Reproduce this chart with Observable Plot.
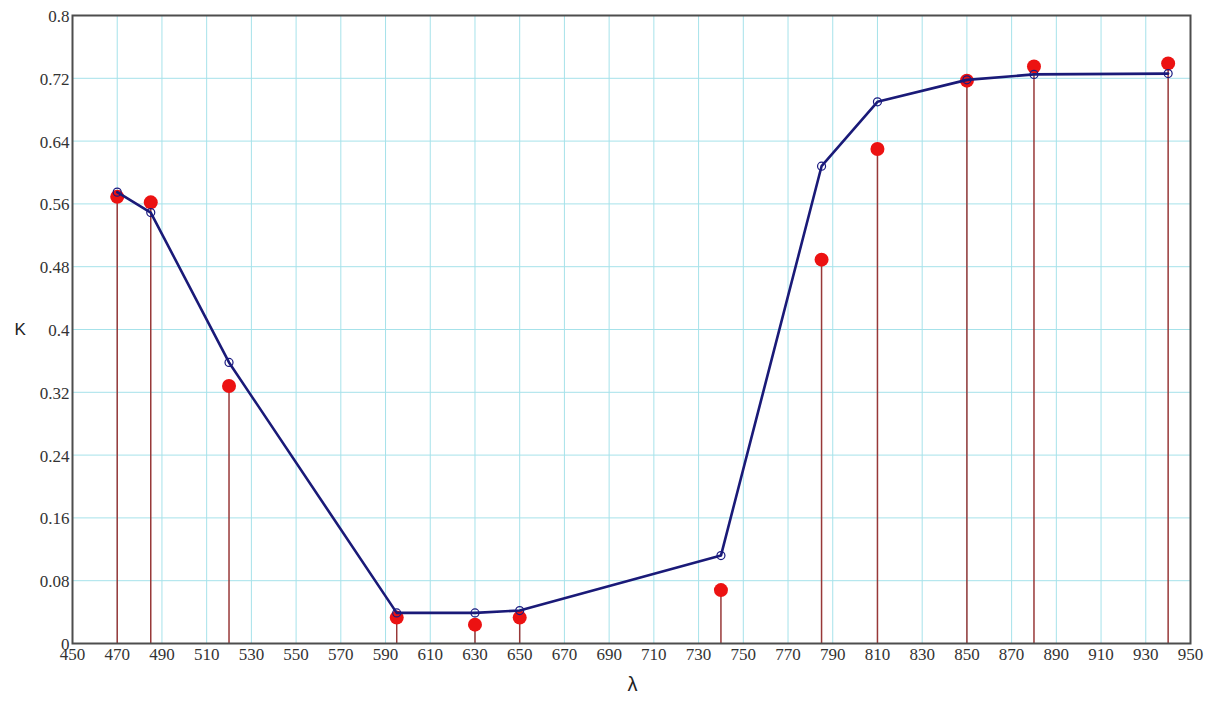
<!DOCTYPE html>
<html>
<head>
<meta charset="utf-8">
<script src="https://cdn.jsdelivr.net/npm/d3@7"></script>
<script src="https://cdn.jsdelivr.net/npm/@observablehq/plot@0.6"></script>
<style>
  html, body { margin: 0; padding: 0; background: #fff; }
  #chart { width: 1216px; height: 707px; }
</style>
</head>
<body>
<div id="chart"></div>
<script>
// Wavelengths (nm)
const lambda = [470, 485, 520, 595, 630, 650, 740, 785, 810, 850, 880, 940];
// Measured K (red dots with stems)
const kMeasured = [0.569, 0.562, 0.328, 0.033, 0.024, 0.033, 0.068, 0.489, 0.630, 0.717, 0.735, 0.739];
// Model K (blue line with open circles)
const kModel = [0.575, 0.549, 0.358, 0.039, 0.039, 0.042, 0.112, 0.608, 0.690, 0.718, 0.725, 0.726];
// Tick values and labels
const xTicks = [450, 470, 490, 510, 530, 550, 570, 590, 610, 630, 650, 670, 690, 710, 730, 750, 770, 790, 810, 830, 850, 870, 890, 910, 930, 950];
const yTicks = [0, 0.08, 0.16, 0.24, 0.32, 0.4, 0.48, 0.56, 0.64, 0.72, 0.8];
const yTickLabels = ["0", "0.08", "0.16", "0.24", "0.32", "0.4", "0.48", "0.56", "0.64", "0.72", "0.8"];

const data = lambda.map((l, i) => ({l, m: kMeasured[i], f: kModel[i]}));
const yTickData = yTicks.map((v, i) => ({v, label: yTickLabels[i]}));

const serif = "Liberation Serif";
const sans = "Liberation Sans";

const chart = Plot.plot({
  width: 1216,
  height: 707,
  marginLeft: 72,
  marginRight: 26,
  marginTop: 15,
  marginBottom: 64,
  x: {domain: [450, 950], axis: null},
  y: {domain: [0, 0.8], axis: null},
  marks: [
    Plot.ruleX(xTicks, {stroke: "#a6e2ea", strokeWidth: 1}),
    Plot.ruleY(yTicks, {stroke: "#a6e2ea", strokeWidth: 1}),
    Plot.text(xTicks, {x: d => d, text: d => String(d), frameAnchor: "bottom", dy: 16, fontFamily: serif, fontSize: 17, fill: "#333"}),
    Plot.text(yTickData, {y: "v", text: "label", frameAnchor: "left", textAnchor: "end", dx: -3, dy: 1, fontFamily: serif, fontSize: 17, fill: "#333"}),
    Plot.ruleX(data, {x: "l", y1: 0, y2: "m", stroke: "#983838", strokeWidth: 1.5}),
    Plot.dot(data, {x: "l", y: "m", r: 7, fill: "#ec1212", stroke: "none"}),
    Plot.line(data, {x: "l", y: "f", stroke: "#1a1a78", strokeWidth: 2.6}),
    Plot.dot(data, {x: "l", y: "f", r: 4, fill: "none", stroke: "#1a1a80", strokeWidth: 1.2}),
    Plot.frame({stroke: "#4d4d4d", strokeWidth: 2}),
    Plot.text(["K"], {frameAnchor: "left", dx: -58, dy: 0, fontFamily: sans, fontSize: 17, fill: "#222"}),
    Plot.text(["λ"], {frameAnchor: "bottom", dx: 1, dy: 47, fontFamily: sans, fontSize: 20, fill: "#222"})
  ]
});
document.getElementById("chart").appendChild(chart);
</script>
</body>
</html>
